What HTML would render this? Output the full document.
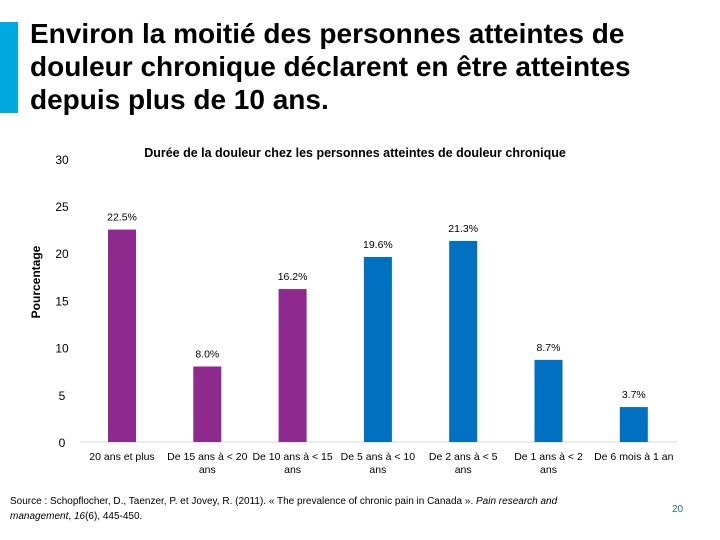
<!DOCTYPE html>
<html><head><meta charset="utf-8"><style>
body{margin:0;width:720px;height:540px;background:#fff;font-family:"Liberation Sans",sans-serif;position:relative;overflow:hidden}
.t{position:absolute;left:30px;top:17px;font-size:28px;font-weight:bold;line-height:33px;color:#000;white-space:nowrap}
.bar{position:absolute;left:0;top:22px;width:18px;height:91px;background:#00A9E0}
.src{position:absolute;left:10px;top:494px;width:600px;font-size:10px;line-height:15px;color:#000}
.pg{position:absolute;left:672px;top:504px;font-size:10px;color:#1F6FA8}
</style></head><body>
<div class="bar"></div>
<div class="t">Environ la moitié des personnes atteintes de<br>douleur chronique déclarent en être atteintes<br>depuis plus de 10 ans.</div>
<svg width="720" height="540" style="position:absolute;left:0;top:0" id="chart">
<text x="355" y="157" font-size="12.5" font-weight="bold" text-anchor="middle" font-family="Liberation Sans">Durée de la douleur chez les personnes atteintes de douleur chronique</text>
<text transform="translate(40,282) rotate(-90)" font-size="12" font-weight="bold" text-anchor="middle" font-family="Liberation Sans">Pourcentage</text>
<line x1="80" y1="442" x2="677" y2="442" stroke="#d9d9d9"/>
</svg>
<div class="src">Source : Schopflocher, D., Taenzer, P. et Jovey, R. (2011). « The prevalence of chronic pain in Canada ». <i>Pain research and management</i>, <i>16</i>(6), 445-450.</div>
<div class="pg">20</div>
<script>
const categories=["20 ans et plus","De 15 ans à < 20 ans","De 10 ans à < 15 ans","De 5 ans à < 10 ans","De 2 ans à < 5 ans","De 1 ans à < 2 ans","De 6 mois à 1 an"];
const values=[22.5,8.0,16.2,19.6,21.3,8.7,3.7];
const colors=["#8E2A8E","#8E2A8E","#8E2A8E","#0070C0","#0070C0","#0070C0","#0070C0"];
const yTicks=[0,5,10,15,20,25,30];
const svg=document.getElementById('chart');const NS="http://www.w3.org/2000/svg";
const y=v=>442-v*9.44;const x=i=>122+i*85.3;
function mk(t,a,txt){const e=document.createElementNS(NS,t);for(const k in a)e.setAttribute(k,a[k]);if(txt!==undefined)e.textContent=txt;svg.appendChild(e);return e;}
yTicks.forEach(v=>{const e=mk('text',{x:62,y:y(v)+5,'font-size':12,'text-anchor':'middle','font-family':'Liberation Sans'},String(v));

});
values.forEach((v,i)=>{const r=mk('rect',{x:x(i)-14,y:y(v),width:28,height:442-y(v),fill:colors[i]});


const l=mk('text',{x:x(i),y:y(v)-9,'font-size':10.5,'text-anchor':'middle','font-family':'Liberation Sans'},v.toFixed(1)+'%');


const parts=categories[i].split(/ (?=ans$)/);
const c=mk('text',{x:x(i),y:460,'font-size':10.5,'text-anchor':'middle','font-family':'Liberation Sans'});


parts.forEach((p,j)=>{const s=document.createElementNS(NS,'tspan');s.setAttribute('x',x(i));s.setAttribute('dy',j?13:0);s.textContent=p;c.appendChild(s);});});
</script>
</body></html>
